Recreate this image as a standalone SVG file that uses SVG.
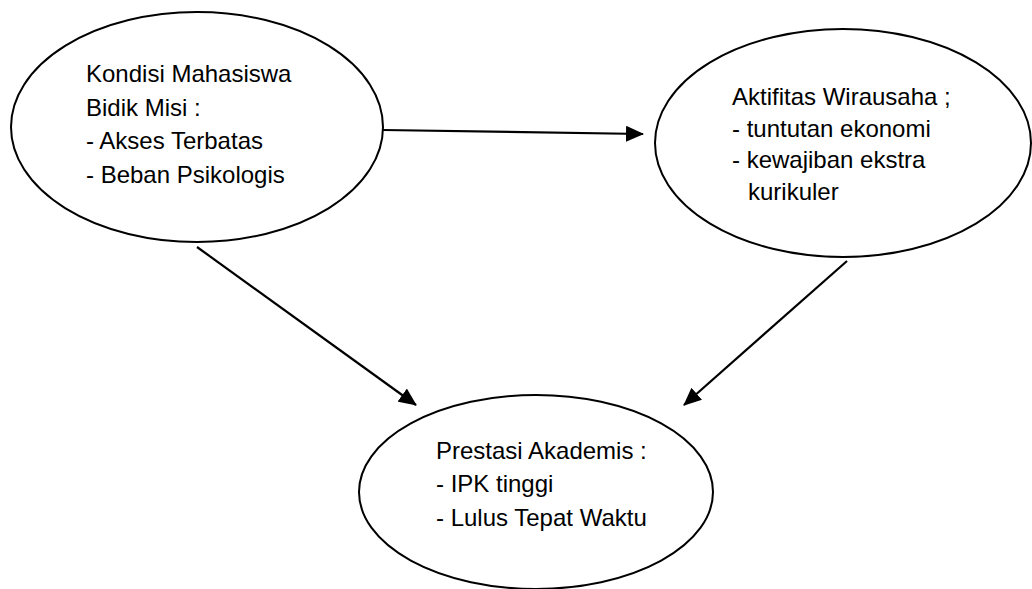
<svg xmlns="http://www.w3.org/2000/svg" width="1032" height="589" viewBox="0 0 1032 589">
<style>
.node{fill:#fff;stroke:#000;stroke-width:2}
.t{font-family:"Liberation Sans",Arial,sans-serif;font-size:24px;fill:#000}
.c{stroke:#000;stroke-width:2.2;fill:none}
</style>
<defs>
<marker id="ah" markerUnits="userSpaceOnUse" markerWidth="18" markerHeight="16" refX="17" refY="8" orient="auto">
<path d="M0,0 L18,8 L0,16 z" fill="#000"/>
</marker>
</defs>
<rect width="1032" height="589" fill="#fff"/>
<g id="kondisi">
<ellipse class="node" cx="197" cy="127" rx="186" ry="115"/>
<text class="t" x="86" y="82">Kondisi Mahasiswa</text>
<text class="t" x="86" y="116">Bidik Misi :</text>
<text class="t" x="86" y="149">- Akses Terbatas</text>
<text class="t" x="86" y="183">- Beban Psikologis</text>
</g>
<g id="aktifitas">
<ellipse class="node" cx="843" cy="143" rx="188" ry="114"/>
<text class="t" x="732" y="105">Aktifitas Wirausaha ;</text>
<text class="t" x="732" y="137">- tuntutan ekonomi</text>
<text class="t" x="732" y="168">- kewajiban ekstra</text>
<text class="t" x="748" y="200">kurikuler</text>
</g>
<g id="prestasi">
<ellipse class="node" cx="536" cy="492" rx="177" ry="97"/>
<text class="t" x="436" y="459">Prestasi Akademis :</text>
<text class="t" x="436" y="492">- IPK tinggi</text>
<text class="t" x="436" y="526">- Lulus Tepat Waktu</text>
</g>
<g id="connectors">
<line class="c" x1="383" y1="130" x2="643" y2="134" marker-end="url(#ah)"/>
<line class="c" x1="197" y1="247" x2="416" y2="405" marker-end="url(#ah)"/>
<line class="c" x1="847" y1="261" x2="684" y2="405" marker-end="url(#ah)"/>
</g>
</svg>
